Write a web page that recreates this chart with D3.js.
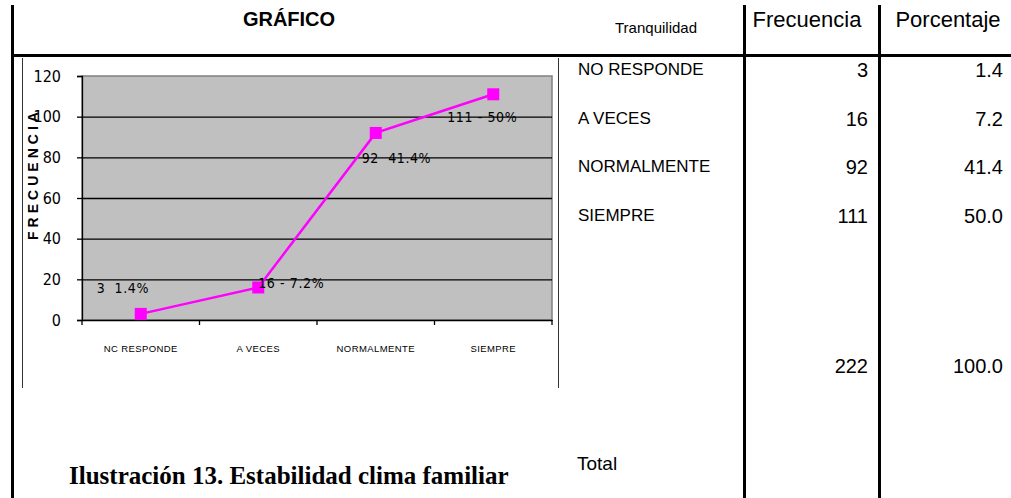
<!DOCTYPE html>
<html>
<head>
<meta charset="utf-8">
<script src="https://cdn.jsdelivr.net/npm/d3@7"></script>
<style>
  body { margin: 0; background: #fff; }
  svg { display: block; }
  .narrow { font-family: "Liberation Sans Narrow", "DejaVu Sans Condensed", "Liberation Sans", Arial, sans-serif; }
  .sans { font-family: "Liberation Sans", Arial, sans-serif; }
</style>
</head>
<body>
<svg id="chart"></svg>
<script>
// chart data
var categories = ["NO RESPONDE", "A VECES", "NORMALMENTE", "SIEMPRE"];
var axisLabels = ["NC RESPONDE", "A VECES", "NORMALMENTE", "SIEMPRE"];
var frequencies = [3, 16, 92, 111];
var percentages = ["1.4", "7.2", "41.4", "50.0"];
var pointLabels = ["3  1.4%", "16 - 7.2%", "92  41.4%", "111 - 50%"];
var yTicks = [0, 20, 40, 60, 80, 100, 120];
var totalFrequency = "222";
var totalPercent = "100.0";

var screen = {width:1011, height:498};

var svg = d3.select("#chart")
    .attr("width", screen.width)
    .attr("height", screen.height);

// plot area of the chart
var plot = {left:82, right:552, top:76, bottom:320};

var xScale = d3.scaleBand()
    .domain(categories)
    .range([plot.left, plot.right]);

var yScale = d3.scaleLinear()
    .domain([0, 120])
    .range([plot.bottom, plot.top]);

//draws the table lines around the chart
var drawFrame = function()
{
    var frame = svg.append("g").classed("frame", true);

    // thick lines
    frame.append("line")
        .attr("x1", 12.5).attr("y1", 5).attr("x2", 12.5).attr("y2", 498)
        .attr("stroke", "#000").attr("stroke-width", 3);
    frame.append("line")
        .attr("x1", 11).attr("y1", 55.5).attr("x2", 1011).attr("y2", 55.5)
        .attr("stroke", "#000").attr("stroke-width", 3);
    frame.append("line")
        .attr("x1", 744.5).attr("y1", 5).attr("x2", 744.5).attr("y2", 498)
        .attr("stroke", "#000").attr("stroke-width", 3);
    frame.append("line")
        .attr("x1", 879.5).attr("y1", 5).attr("x2", 879.5).attr("y2", 498)
        .attr("stroke", "#000").attr("stroke-width", 3);

    // thin lines of the picture box
    frame.append("line")
        .attr("x1", 22.5).attr("y1", 58).attr("x2", 22.5).attr("y2", 388)
        .attr("stroke", "#333").attr("stroke-width", 1);
    frame.append("line")
        .attr("x1", 558.5).attr("y1", 58).attr("x2", 558.5).attr("y2", 388)
        .attr("stroke", "#333").attr("stroke-width", 1);
}

var drawPlot = function()
{
    svg.append("rect")
        .attr("x", plot.left)
        .attr("y", plot.top)
        .attr("width", plot.right - plot.left)
        .attr("height", plot.bottom - plot.top)
        .attr("fill", "#c0c0c0")
        .attr("stroke", "#808080")
        .attr("stroke-width", 1.5);

    // gridlines
    var grid = d3.axisLeft(yScale)
        .tickValues(yTicks.slice(1, -1))
        .tickSize(-(plot.right - plot.left))
        .tickFormat("");
    var g = svg.append("g")
        .attr("transform", "translate(" + plot.left + ",0)")
        .call(grid);
    g.select(".domain").remove();
    g.selectAll(".tick line").attr("stroke", "#000").attr("stroke-width", 1.3);

    // y axis
    var yAxis = d3.axisLeft(yScale)
        .tickValues(yTicks)
        .tickSize(5)
        .tickPadding(16);
    var ya = svg.append("g")
        .attr("transform", "translate(" + plot.left + ",0)")
        .call(yAxis);
    ya.select(".domain").attr("stroke", "#000").attr("stroke-width", 1.3);
    ya.selectAll(".tick line").attr("stroke", "#000").attr("stroke-width", 1.3);
    ya.selectAll("text")
        .attr("class", "narrow")
        .attr("font-family", null)
        .style("font-size", "16px")
        .attr("fill", "#000");

    // x axis, labels at band centres
    var xAxis = d3.axisBottom(xScale)
        .tickSize(0)
        .tickPadding(25)
        .tickFormat(function(d, i) { return axisLabels[i]; });
    var xa = svg.append("g")
        .attr("transform", "translate(0," + plot.bottom + ")")
        .call(xAxis);
    xa.select(".domain").attr("stroke", "#000").attr("stroke-width", 1.5);
    xa.selectAll("text")
        .attr("class", "sans")
        .attr("font-family", null)
        .style("font-size", "9.5px")
        .style("letter-spacing", "0.4px")
        .attr("fill", "#000");

    // tick marks on category boundaries
    var bounds = categories.map(function(c) { return xScale(c); });
    bounds.push(plot.right);
    xa.selectAll(".bound")
        .data(bounds)
        .enter()
        .append("line")
        .classed("bound", true)
        .attr("x1", function(d) { return d; })
        .attr("x2", function(d) { return d; })
        .attr("y1", 0)
        .attr("y2", 5)
        .attr("stroke", "#000")
        .attr("stroke-width", 1.3);
}

var drawLine = function()
{
    var cx = function(d, i) { return xScale(categories[i]) + xScale.bandwidth() / 2; };

    var lineGenerator = d3.line()
        .x(cx)
        .y(function(d) { return yScale(d); });

    svg.append("path")
        .datum(frequencies)
        .attr("d", lineGenerator)
        .attr("fill", "none")
        .attr("stroke", "#ff00ff")
        .attr("stroke-width", 2.5);

    svg.selectAll(".marker")
        .data(frequencies)
        .enter()
        .append("rect")
        .classed("marker", true)
        .attr("x", function(d, i) { return cx(d, i) - 6; })
        .attr("y", function(d) { return yScale(d) - 6; })
        .attr("width", 12)
        .attr("height", 12)
        .attr("fill", "#ff00ff");

    // where excel put the data labels, relative to the point
    var labelOffsets = [[-44, -21], [0, 1], [-14, 30], [-46, 28]];

    svg.selectAll(".plabel")
        .data(frequencies)
        .enter()
        .append("text")
        .attr("class", "narrow plabel")
        .attr("x", function(d, i) { return cx(d, i) + labelOffsets[i][0]; })
        .attr("y", function(d, i) { return yScale(d) + labelOffsets[i][1]; })
        .style("font-size", "14px")
        .style("letter-spacing", "0.6px")
        .style("white-space", "pre")
        .attr("fill", "#000")
        .text(function(d, i) { return pointLabels[i]; });

    // axis title
    svg.append("text")
        .attr("class", "sans")
        .attr("transform", "translate(38,176) rotate(-90)")
        .attr("text-anchor", "middle")
        .style("font-size", "14px")
        .style("font-weight", "bold")
        .attr("textLength", 128)
        .attr("lengthAdjust", "spacing")
        .text("FRECUENCIA");
}

var drawTable = function()
{
    var t = svg.append("g").attr("class", "sans").attr("fill", "#000");

    t.append("text")
        .attr("x", 289).attr("y", 26)
        .attr("text-anchor", "middle")
        .style("font-size", "20px")
        .style("font-weight", "bold")
        .text("GRÁFICO");

    t.append("text")
        .attr("x", 656).attr("y", 33)
        .attr("text-anchor", "middle")
        .style("font-size", "15px")
        .text("Tranquilidad");

    t.append("text")
        .attr("x", 807).attr("y", 27)
        .attr("text-anchor", "middle")
        .style("font-size", "22px")
        .text("Frecuencia");

    t.append("text")
        .attr("x", 948).attr("y", 27)
        .attr("text-anchor", "middle")
        .style("font-size", "22px")
        .text("Porcentaje");

    var rowY = d3.scalePoint()
        .domain(categories)
        .range([76, 222]);

    t.selectAll(".rlabel")
        .data(categories)
        .enter()
        .append("text")
        .attr("x", 578)
        .attr("y", function(d) { return rowY(d) - 1; })
        .style("font-size", "17px")
        .text(function(d) { return d; });

    t.selectAll(".rfreq")
        .data(frequencies)
        .enter()
        .append("text")
        .attr("x", 868)
        .attr("y", function(d, i) { return rowY(categories[i]) + 1; })
        .attr("text-anchor", "end")
        .style("font-size", "20px")
        .text(function(d) { return d; });

    t.selectAll(".rpct")
        .data(percentages)
        .enter()
        .append("text")
        .attr("x", 1003)
        .attr("y", function(d, i) { return rowY(categories[i]) + 1; })
        .attr("text-anchor", "end")
        .style("font-size", "20px")
        .text(function(d) { return d; });

    t.append("text")
        .attr("x", 868).attr("y", 373)
        .attr("text-anchor", "end")
        .style("font-size", "20px")
        .text(totalFrequency);

    t.append("text")
        .attr("x", 1003).attr("y", 373)
        .attr("text-anchor", "end")
        .style("font-size", "20px")
        .text(totalPercent);

    t.append("text")
        .attr("x", 577).attr("y", 470)
        .style("font-size", "19px")
        .text("Total");

    svg.append("text")
        .attr("x", 69).attr("y", 484)
        .style("font-family", "'Liberation Serif', 'Times New Roman', serif")
        .style("font-size", "25px")
        .style("font-weight", "bold")
        .text("Ilustración 13. Estabilidad clima familiar");
}

drawFrame();
drawPlot();
drawLine();
drawTable();
</script>
</body>
</html>
